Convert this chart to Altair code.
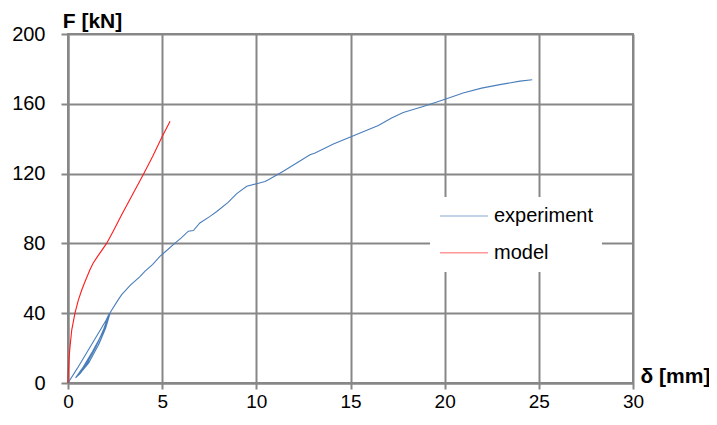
import altair as alt
import pandas as pd

# experiment (blue) – cyclic part then monotonic loading
exp_delta = [0.0, 0.5, 1.0, 1.5, 2.0, 2.2,
             1.9, 1.5, 1.0, 0.55, 0.4,
             0.8, 1.3, 1.8, 2.22,
             1.95, 1.6, 1.1, 0.6, 0.45,
             0.9, 1.4, 1.9, 2.25,
             2.0, 1.65, 1.15, 0.65, 0.5,
             0.95, 1.45, 1.95, 2.25,
             2.67, 2.85, 3.3, 3.82, 4.08, 4.5, 4.88, 5.3, 5.68, 6.0, 6.39, 6.66,
             7.0, 7.54, 7.9, 8.5, 8.96, 9.49, 10.02, 10.46, 10.64, 11.43, 12.1,
             12.85, 13.12, 14.09, 15.06, 15.8, 16.48, 17.18, 17.8, 18.86, 20.1,
             20.98, 21.96, 22.93, 24.0, 24.65]
exp_force = [0.0, 8.5, 17.5, 26.5, 35.5, 40.0,
             31.0, 21.0, 11.0, 4.5, 3.0,
             9.0, 18.0, 28.0, 40.0,
             30.5, 21.5, 11.5, 5.0, 3.5,
             10.5, 19.5, 30.5, 40.5,
             31.5, 22.5, 12.5, 5.5, 4.0,
             11.0, 20.5, 31.5, 40.5,
             47.8, 50.6, 56.0, 61.0, 64.0, 68.0, 72.6, 76.5, 80.2, 83.0, 87.0, 87.4,
             91.7, 95.5, 98.3, 103.5, 108.5, 112.7, 114.2, 115.5, 116.5, 121.3, 125.8,
             130.8, 131.8, 137.0, 141.3, 144.5, 147.6, 151.9, 155.0, 158.5, 162.9,
             166.2, 169.0, 171.0, 173.0, 173.8]

# model (red)
mod_delta = [0.0, 0.02, 0.05, 0.1, 0.2, 0.37, 0.55, 0.72, 0.9, 1.17, 1.34, 1.6,
             2.05, 2.4, 2.85, 3.4, 4.0, 4.5, 4.97, 5.42]
mod_force = [0.0, 7.0, 13.0, 20.0, 30.5, 40.0, 47.5, 53.0, 58.0, 65.0, 68.8, 73.0,
             80.0, 87.0, 96.4, 107.5, 119.5, 130.0, 140.5, 150.0]

series_names = ["experiment", "model"]
series_colors = ["#4a7ebb", "#ff1a1a"]
x_ticks = [0, 5, 10, 15, 20, 25, 30]
y_ticks = [0, 40, 80, 120, 160, 200]

rows = []
for i, (d, f) in enumerate(zip(exp_delta, exp_force)):
    rows.append({"delta": d, "F": f, "series": "experiment", "idx": i})
for i, (d, f) in enumerate(zip(mod_delta, mod_force)):
    rows.append({"delta": d, "F": f, "series": "model", "idx": i})
df = pd.DataFrame(rows)

FONT = "Liberation Sans"
GRID = "#878787"

chart = alt.Chart(df).mark_line(strokeWidth=1.1).encode(
    x=alt.X("delta:Q",
            scale=alt.Scale(domain=[0, 30], nice=False),
            axis=alt.Axis(values=x_ticks, title="δ [mm]", titleAngle=0,
                          titleAlign="left", titleBaseline="alphabetic",
                          titleX=572, titleY=-1, tickSize=6,
                          labelFontSize=19,
                          labelFlush=False, labelPadding=3)),
    y=alt.Y("F:Q",
            scale=alt.Scale(domain=[0, 200], nice=False),
            axis=alt.Axis(values=y_ticks, title="F [kN]", titleAngle=0,
                          titleAlign="center", titleBaseline="alphabetic",
                          titleX=24, titleY=-7,
                          labelFlush=False, labelPadding=16)),
    color=alt.Color("series:N",
                    scale=alt.Scale(domain=series_names, range=series_colors),
                    legend=alt.Legend(title=None, orient="none",
                                      legendX=362, legendY=163,
                                      symbolType="stroke", symbolSize=2304,
                                      symbolStrokeWidth=1.5, symbolOpacity=0.45,
                                      labelFont=FONT, labelFontSize=20,
                                      labelColor="black", labelOffset=5,
                                      fillColor="white", padding=9,
                                      clipHeight=20, rowPadding=16.7)),
    order="idx:Q",
).properties(
    width=565, height=349,
    autosize=alt.AutoSizeParams(type="none"),
    padding={"left": 60, "top": 26, "right": 76, "bottom": 29},
).configure_view(
    stroke=GRID, strokeWidth=2
).configure_axis(
    grid=True, gridColor=GRID, gridWidth=2, gridOpacity=1,
    domainColor=GRID, domainWidth=2,
    tickColor=GRID, tickWidth=2, tickSize=7,
    labelFont=FONT, labelFontSize=20, labelColor="black",
    titleFont=FONT, titleFontSize=21, titleFontWeight="bold", titleColor="black",
)

chart.save("out.html", embed_options={"renderer": "svg", "actions": False})
